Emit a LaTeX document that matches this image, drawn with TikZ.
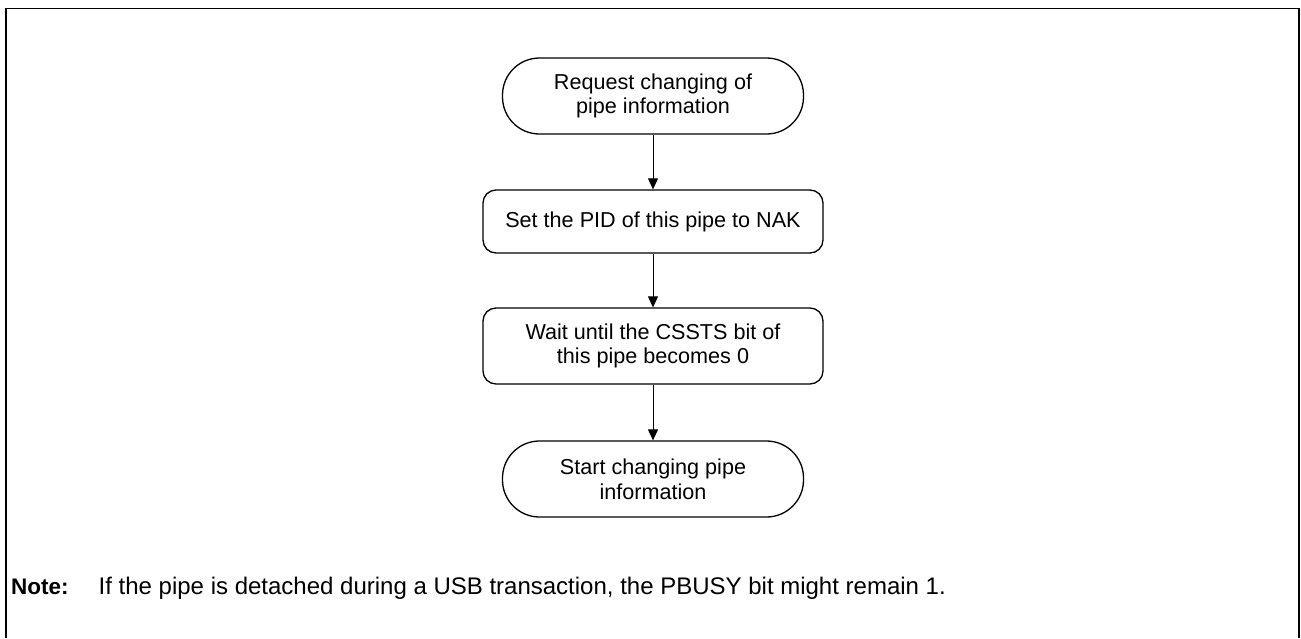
\documentclass[tikz,border=0pt]{standalone}
\usepackage{fontspec}
\setmainfont{Liberation Sans}
\usetikzlibrary{arrows.meta}
\begin{document}
\begin{tikzpicture}[x=1pt,y=-1pt,
  every node/.style={font=\fontsize{21.6}{24.6}\selectfont},
  terminal/.style={draw, line width=1.3pt, rounded corners=37pt, minimum width=301pt, minimum height=76pt, align=center, inner sep=0pt},
  process/.style={draw, line width=1.3pt, rounded corners=13pt, minimum width=340pt, align=center, inner sep=0pt},
  flow/.style={-{Triangle[length=11pt,width=10pt]}, line width=1pt},
  notetext/.style={anchor=base west, inner sep=0pt}]
\useasboundingbox (0,0) rectangle (1301,638);
\draw[line width=1.7pt] (6,638) -- (6,8.5) -- (1299,8.5) -- (1299,638);
\node[terminal] (n1) at (653,96) {Request changing of\\pipe information};
\node[process, minimum height=63pt] (n2) at (653,221.5) {Set the PID of this pipe to NAK};
\node[process, minimum height=76pt] (n3) at (653,346) {Wait until the CSSTS bit of\\this pipe becomes 0};
\node[terminal] (n4) at (653,479) {Start changing pipe\\information};
\draw[flow] (n1) -- (n2);
\draw[flow] (n2) -- (n3);
\draw[flow] (n3) -- (n4);
\node[notetext, font=\fontsize{22.5}{26}\selectfont\bfseries] (nl) at (11,594) {Note:};
\node[notetext, font=\fontsize{24}{28}\selectfont] (nt) at (98.5,594) {If the pipe is detached during a USB transaction, the PBUSY bit might remain 1.};
\end{tikzpicture}
\end{document}
